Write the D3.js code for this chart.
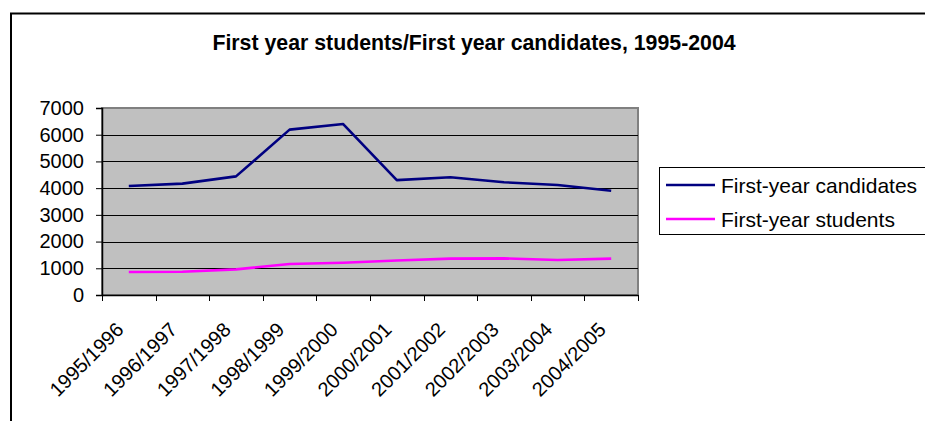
<!DOCTYPE html>
<html>
<head>
<meta charset="utf-8">
<script src="https://cdn.jsdelivr.net/npm/d3@7/dist/d3.min.js"></script>
<style>
  html, body { margin: 0; padding: 0; background: #fff; overflow: hidden; }
  svg { display: block; font-family: "Liberation Sans", Arial, sans-serif; }
</style>
</head>
<body>
<svg id="chart" width="925" height="421"></svg>
<script>
// Academic years on the category axis
const years = ["1995/1996", "1996/1997", "1997/1998", "1998/1999", "1999/2000",
               "2000/2001", "2001/2002", "2002/2003", "2003/2004", "2004/2005"];

// Series values
const candidates = [4080, 4170, 4440, 6190, 6400, 4300, 4410, 4220, 4120, 3900];
const students   = [860, 870, 960, 1160, 1210, 1290, 1360, 1370, 1310, 1360];

// Value axis ticks
const yTicks = [0, 1000, 2000, 3000, 4000, 5000, 6000, 7000];

const seriesNames  = ["First-year candidates", "First-year students"];
const seriesColors = ["#000080", "#FF00FF"];
const titleText = "First year students/First year candidates, 1995-2004";

const series = [
  { name: seriesNames[0], color: seriesColors[0], values: candidates },
  { name: seriesNames[1], color: seriesColors[1], values: students }
];

const svg = d3.select("#chart");

// Chart frame: only the top and left edges fall inside the page
svg.append("path")
  .attr("d", "M11,421 V13.5 H925")
  .attr("fill", "none").attr("stroke", "#000").attr("stroke-width", 2);

// Title
svg.append("text")
  .attr("x", 474).attr("y", 49.5)
  .attr("text-anchor", "middle")
  .attr("font-size", 21.3).attr("font-weight", "bold")
  .attr("fill", "#000")
  .text(titleText);

const plot = { left: 102, right: 638, top: 108, bottom: 295 };

const x = d3.scaleBand().domain(years).range([plot.left, plot.right]).padding(0);
const y = d3.scaleLinear().domain([0, 7000]).range([plot.bottom, plot.top]);

// Plot area background
svg.append("rect")
  .attr("x", plot.left).attr("y", plot.top)
  .attr("width", plot.right - plot.left).attr("height", plot.bottom - plot.top)
  .attr("fill", "#C0C0C0").attr("stroke", "#808080").attr("stroke-width", 2);

// Horizontal gridlines
svg.append("g")
  .selectAll("line")
  .data(yTicks.filter(t => t > 0 && t < 7000))
  .join("line")
  .attr("x1", plot.left).attr("x2", plot.right)
  .attr("y1", d => Math.round(y(d)) + 0.5).attr("y2", d => Math.round(y(d)) + 0.5)
  .attr("stroke", "#000").attr("stroke-width", 1);

// Value axis
const yAxis = svg.append("g")
  .attr("transform", `translate(${plot.left},0)`)
  .call(d3.axisLeft(y).tickValues(yTicks).tickSize(6).tickPadding(12).tickFormat(d3.format("d")));
yAxis.select(".domain").attr("stroke", "#000").attr("stroke-width", 1.5);
yAxis.selectAll(".tick line").attr("stroke", "#000");
yAxis.selectAll(".tick text")
  .attr("font-size", 20).attr("fill", "#000")
  .attr("font-family", "Liberation Sans, Arial, sans-serif");

// Category axis with ticks on the category boundaries
const xAxis = svg.append("g")
  .attr("transform", `translate(0,${plot.bottom})`)
  .call(d3.axisBottom(x).tickSize(0).tickFormat(""));
xAxis.select(".domain").attr("stroke", "#000").attr("stroke-width", 1.5);
const boundaries = years.map(d => x(d)).concat([plot.right]);
xAxis.append("g")
  .selectAll("line")
  .data(boundaries)
  .join("line")
  .attr("x1", d => Math.round(d) + 0.5).attr("x2", d => Math.round(d) + 0.5)
  .attr("y1", 0).attr("y2", 6)
  .attr("stroke", "#000").attr("stroke-width", 1);

// Rotated category labels
svg.append("g")
  .selectAll("text")
  .data(years)
  .join("text")
  .attr("transform", d => `translate(${x(d) + x.bandwidth() / 2 - 4},${plot.bottom + 36}) rotate(-45)`)
  .attr("text-anchor", "end")
  .attr("font-size", 20).attr("fill", "#000")
  .text(d => d);

// Series lines
const line = d3.line()
  .x((d, i) => x(years[i]) + x.bandwidth() / 2)
  .y(d => y(d));

svg.append("g")
  .selectAll("path")
  .data(series)
  .join("path")
  .attr("d", s => line(s.values))
  .attr("fill", "none")
  .attr("stroke", s => s.color)
  .attr("stroke-width", 2.6)
  .attr("stroke-linejoin", "round");

// Legend (its right edge runs past the page)
const legend = svg.append("g");
legend.append("rect")
  .attr("x", 659.5).attr("y", 167.5)
  .attr("width", 300).attr("height", 67)
  .attr("fill", "#fff").attr("stroke", "#000").attr("stroke-width", 1);

const items = legend.selectAll("g.item")
  .data(series)
  .join("g")
  .attr("class", "item")
  .attr("transform", (d, i) => `translate(0,${185 + i * 34})`);
items.append("line")
  .attr("x1", 666).attr("x2", 715)
  .attr("y1", 0).attr("y2", 0)
  .attr("stroke", d => d.color).attr("stroke-width", 2.6);
items.append("text")
  .attr("x", 721).attr("y", 7.5)
  .attr("font-size", 21).attr("fill", "#000")
  .text(d => d.name);
</script>
</body>
</html>
